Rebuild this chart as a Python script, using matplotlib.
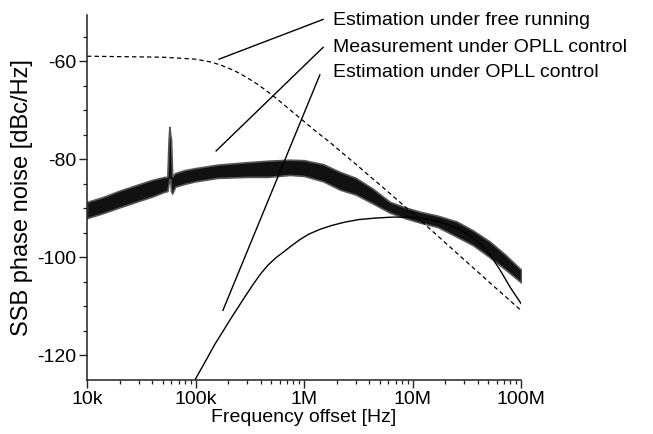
import matplotlib
matplotlib.use("Agg")
import matplotlib.pyplot as plt
from matplotlib.ticker import FixedLocator, LogLocator, NullFormatter

plt.rcParams["font.family"] = ["Liberation Sans", "DejaVu Sans"]
plt.rcParams["axes.unicode_minus"] = False

# estimation under free running (dashed)
free_f = [1e4, 5e4, 1e5, 1.4e5, 1.7e5, 2.1e5, 2.5e5, 3e5, 3.6e5, 4.3e5, 5e5, 6e5,
          7.5e5, 1e6, 1.3e6, 1.7e6, 2.2e6, 3e6, 4e6, 5e6, 7e6, 1e7, 2e7, 5e7, 1e8]
free_db = [-59.0, -59.2, -59.6, -60.2, -60.8, -61.6, -62.4, -63.4, -64.5, -65.7, -66.8,
           -68.2, -70.0, -72.3, -74.4, -76.4, -78.5, -81.0, -83.4, -85.2, -88.0, -91.0,
           -97.0, -104.9, -110.8]

# estimation under OPLL control (solid)
est_f = [1e5, 1.15e5, 1.3e5, 1.5e5, 1.8e5, 2.1e5, 2.5e5, 2.9e5, 3.4e5, 4e5, 4.7e5,
         5.5e5, 6.4e5, 7.5e5, 9e5, 1.1e6, 1.4e6, 1.8e6, 2.4e6, 3.2e6, 4.5e6, 6.5e6,
         9e6, 1.2e7, 1.6e7, 2.1e7, 2.7e7, 3.3e7, 3.9e7, 4.6e7, 5.5e7, 6.5e7, 8e7, 1e8]
est_db = [-124.8, -122.4, -120.3, -117.8, -115.0, -112.6, -110.0, -107.8, -105.5,
          -103.3, -101.5, -100.1, -99.0, -97.8, -96.5, -95.3, -94.3, -93.5, -92.8,
          -92.3, -92.0, -91.8, -91.8, -92.0, -92.5, -93.3, -94.3, -95.4, -96.6, -98.2,
          -100.3, -102.8, -106.2, -109.4]

# measurement under OPLL control: noisy trace, lower / upper envelope
meas_f = [1e4, 1.4e4, 2e4, 3e4, 4e4, 5.2e4, 5.5e4, 5.65e4, 5.75e4, 5.85e4, 5.95e4,
          6.1e4, 6.5e4, 8e4, 1e5, 1.6e5, 3e5, 4.65e5, 7.4e5, 1e6, 1.5e6, 2.15e6,
          3e6, 4.3e6, 6.2e6, 8.5e6, 1.17e7, 1.7e7, 2.56e7, 3.6e7, 5.17e7, 7.2e7, 1e8]
meas_lo = [-92.0, -91.0, -89.8, -88.5, -87.6, -86.6, -86.5, -85.0, -84.0, -84.0, -86.5,
           -87.0, -85.6, -85.0, -84.5, -83.8, -83.6, -83.6, -83.2, -83.4, -84.5, -86.2,
           -87.2, -89.0, -90.9, -92.0, -92.9, -93.8, -95.8, -97.5, -100.0, -102.5, -105.1]
meas_hi = [-88.7, -87.7, -86.4, -85.1, -84.2, -83.6, -83.6, -76.0, -73.4, -75.0, -76.0,
           -83.5, -82.8, -82.2, -81.8, -81.1, -80.6, -80.3, -80.1, -80.2, -81.0, -82.6,
           -83.8, -86.0, -88.7, -89.8, -90.7, -91.5, -92.7, -94.5, -96.8, -99.5, -102.5]

labels = ["Estimation under free running",
          "Measurement under OPLL control",
          "Estimation under OPLL control"]
# pointer lines: (start f, start dB) -> (end f, end dB)
pointers = [((1.65e5, -59.6), (1.5e6, -51.5)),
            ((1.55e5, -78.3), (1.5e6, -57.2)),
            ((1.79e5, -110.8), (1.4e6, -62.8))]
label_y = [-51.7, -57.2, -62.4]

fig = plt.figure(figsize=(6.53, 4.34), dpi=100)
ax = fig.add_axes([87 / 653, 1 - 380 / 434, 434 / 653, 365 / 434])

ax.fill_between(meas_f, meas_lo, meas_hi, facecolor="#111111", edgecolor="#555555", lw=1.2)
ax.plot(free_f, free_db, color="black", lw=0.9, dashes=(3.5, 2.5))
ax.plot(est_f, est_db, color="black", lw=1.0)

for (p0, p1) in pointers:
    ax.plot([p0[0], p1[0]], [p0[1], p1[1]], color="black", lw=1.0, clip_on=False)
for txt, y in zip(labels, label_y):
    ax.text(1.85e6, y, txt, fontsize=14, va="center", ha="left", clip_on=False)

ax.set_xscale("log")
ax.set_xlim(1e4, 1e8)
ax.set_ylim(-125, -50.6)
ax.set_xticks([1e4, 1e5, 1e6, 1e7, 1e8])
ax.set_xticklabels(["10k", "100k", "1M", "10M", "100M"])
ax.xaxis.set_minor_locator(LogLocator(base=10, subs=range(2, 10)))
ax.xaxis.set_minor_formatter(NullFormatter())
ax.set_yticks([-60, -80, -100, -120])
ax.yaxis.set_minor_locator(FixedLocator([-55, -65, -70, -75, -85, -90, -95, -105, -110, -115]))

for side in ("top", "right"):
    ax.spines[side].set_visible(False)
for side in ("left", "bottom"):
    ax.spines[side].set_linewidth(1.1)
    ax.spines[side].set_color("#222222")
ax.tick_params(which="major", direction="out", length=5.5, width=1.0, labelsize=14,
               pad=2.5, color="#222222")
ax.tick_params(which="minor", direction="out", length=3, width=0.9, color="#222222")

ax.set_xlabel("Frequency offset [Hz]", fontsize=14, labelpad=1)
ax.set_ylabel("SSB phase noise [dBc/Hz]", fontsize=17, labelpad=3)

fig.savefig("out.png", dpi=100)
